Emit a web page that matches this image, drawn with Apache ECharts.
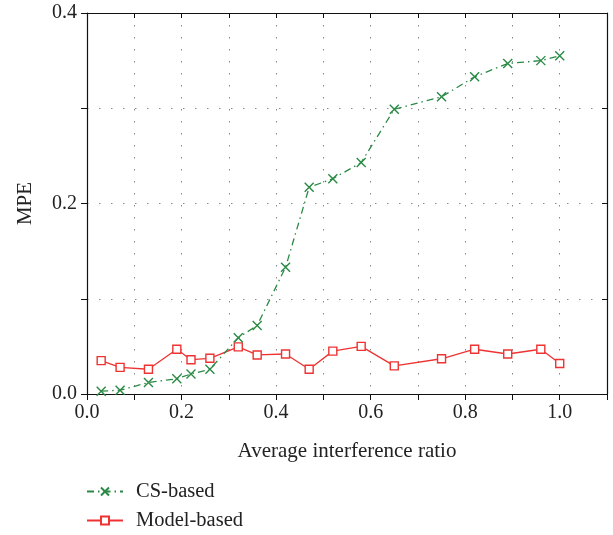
<!DOCTYPE html>
<html>
<head>
<meta charset="utf-8">
<script src="https://cdn.jsdelivr.net/npm/echarts@6/dist/echarts.min.js"></script>
<style>
html,body{margin:0;padding:0;background:#fff;}
#chart{width:613px;height:535px;}
</style>
</head>
<body>
<div id="chart"></div>
<script>
var ratios = [0.03, 0.07, 0.13, 0.19, 0.22, 0.26, 0.32, 0.36, 0.42, 0.47, 0.52, 0.58, 0.65, 0.75, 0.82, 0.89, 0.96, 1.0];
var csBased = [0.003, 0.004, 0.012, 0.016, 0.021, 0.026, 0.059, 0.072, 0.133, 0.217, 0.226, 0.243, 0.299, 0.312, 0.333, 0.347, 0.350, 0.355];
var modelBased = [0.035, 0.028, 0.026, 0.047, 0.036, 0.0375, 0.0495, 0.041, 0.042, 0.026, 0.045, 0.050, 0.0295, 0.037, 0.047, 0.042, 0.047, 0.032];
var seriesNames = ['CS-based', 'Model-based'];
var xTickLabels = ['0.0', '0.2', '0.4', '0.6', '0.8', '1.0'];
var yTickLabels = ['0.0', '0.2', '0.4'];

function pairs(xs, ys) { return xs.map(function (x, i) { return [x, ys[i]]; }); }

var font = '"Liberation Serif", "DejaVu Serif", serif';
var green = '#2a8a45';
var red = '#ee3333';
var gridLine = { color: '#888', type: [1.5, 10.5], width: 1 };

function legendFor(name, top) {
  return {
    orient: 'vertical', left: 86, top: top, padding: 0,
    itemWidth: 36, itemHeight: 10,
    data: [name],
    textStyle: { fontFamily: font, fontSize: 20.5, color: '#222', padding: [0, 0, 0, 8] }
  };
}

var chart = echarts.init(document.getElementById('chart'));
chart.setOption({
  animation: false,
  backgroundColor: '#fff',
  grid: { left: 87, right: 6, top: 13, bottom: 141 },
  legend: [legendFor(seriesNames[0], 481), legendFor(seriesNames[1], 510)],
  xAxis: [{
    type: 'value', min: 0, max: 1.1, interval: 0.1,
    name: 'Average interference ratio', nameLocation: 'middle', nameGap: 47,
    nameTextStyle: { fontFamily: font, fontSize: 21, color: '#222' },
    axisLine: { show: true, onZero: false, lineStyle: { color: '#111', width: 1.2 } },
    axisTick: { show: true, inside: false, length: 6, lineStyle: { color: '#111' } },
    axisLabel: {
      fontFamily: font, fontSize: 20, color: '#222', margin: 9,
      formatter: function (v) {
        var k = Math.round(v * 10);
        return (k % 2 === 0 && k <= 10) ? xTickLabels[k / 2] : '';
      }
    },
    splitLine: { show: true, lineStyle: gridLine }
  }, {
    type: 'value', position: 'top', min: 0, max: 1.1, interval: 0.1,
    axisLine: { show: true, onZero: false, lineStyle: { color: '#111', width: 1.2 } },
    axisTick: { show: true, inside: true, length: 5, lineStyle: { color: '#111' } },
    axisLabel: { show: false }, splitLine: { show: false }
  }],
  yAxis: [{
    type: 'value', min: 0, max: 0.4, interval: 0.1,
    name: 'MPE', nameLocation: 'middle', nameGap: 51,
    nameTextStyle: { fontFamily: font, fontSize: 21, color: '#222' },
    axisLine: { show: true, onZero: false, lineStyle: { color: '#111', width: 1.2 } },
    axisTick: { show: true, inside: false, length: 6, lineStyle: { color: '#111' } },
    axisLabel: {
      fontFamily: font, fontSize: 20, color: '#222', margin: 10,
      formatter: function (v) {
        var k = Math.round(v * 10);
        return (k % 2 === 0) ? yTickLabels[k / 2] : '';
      }
    },
    splitLine: { show: true, lineStyle: gridLine }
  }, {
    type: 'value', position: 'right', min: 0, max: 0.4, interval: 0.1,
    axisLine: { show: true, onZero: false, lineStyle: { color: '#111', width: 1.2 } },
    axisTick: { show: true, inside: true, length: 5, lineStyle: { color: '#111' } },
    axisLabel: { show: false }, splitLine: { show: false }
  }],
  series: [{
    name: seriesNames[0], type: 'line',
    data: pairs(ratios, csBased),
    symbol: 'path://M0,0L10,10M10,0L0,10', symbolSize: 9,
    lineStyle: { color: green, width: 1.3, type: [7, 4, 1.5, 4] },
    itemStyle: { color: 'rgba(0,0,0,0)', borderColor: green, borderWidth: 1.4 },
    z: 3
  }, {
    name: seriesNames[1], type: 'line',
    data: pairs(ratios, modelBased),
    symbol: 'rect', symbolSize: 8,
    lineStyle: { color: red, width: 1.3, type: 'solid' },
    itemStyle: { color: '#fff', borderColor: red, borderWidth: 1.4 },
    z: 2
  }]
});
</script>
</body>
</html>
